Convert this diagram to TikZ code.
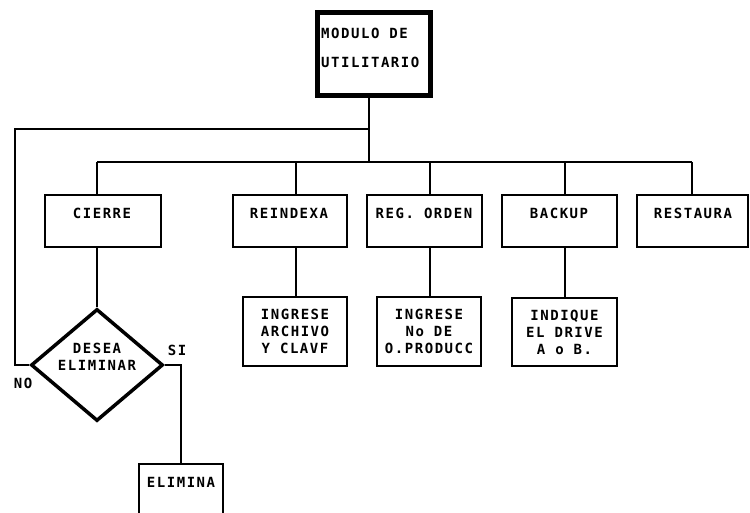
\documentclass[tikz,border=0pt]{standalone}
\usepackage{fontspec}
\newfontfamily\cadfont[LetterSpace=11]{DejaVu Sans Mono Bold}
\usetikzlibrary{shapes.geometric}
\begin{document}
\begin{tikzpicture}[x=1pt,y=-1pt,
  wire/.style={line width=1.5pt},
  box/.style={draw, line width=1.5pt, rectangle, inner sep=0pt},
  txt/.style={font=\cadfont\fontsize{14}{17}\selectfont, inner sep=0pt, align=center},
]
\clip (0,0) rectangle (750,513);

% main module
\node[draw, line width=5pt, minimum width=113, minimum height=83, inner sep=0pt] (mod) at (374,54) {};
\node[txt, anchor=west] (mod-t1) at (321,33) {MODULO DE};
\node[txt, anchor=west] (mod-t2) at (321,62) {UTILITARIO};

% first level options
\node[box, minimum width=116, minimum height=52] (cierre)   at (103,221) {};
\node[box, minimum width=114, minimum height=52] (reindexa) at (290,221) {};
\node[box, minimum width=115, minimum height=52] (regorden) at (424.5,221) {};
\node[box, minimum width=115, minimum height=52] (backup)   at (559.5,221) {};
\node[box, minimum width=111, minimum height=52] (restaura) at (692.5,221) {};
\node[txt] (cierre-t)   at (102,213) {CIERRE};
\node[txt] (reindexa-t) at (289,213) {REINDEXA};
\node[txt] (regorden-t) at (424,213) {REG. ORDEN};
\node[txt] (backup-t)   at (559,213) {BACKUP};
\node[txt] (restaura-t) at (693,213) {RESTAURA};

% second level prompts
\node[box, minimum width=104, minimum height=69, txt] (ing1) at (295,331.5) {INGRESE\\ARCHIVO\\Y CLAVF};
\node[box, minimum width=104, minimum height=69, txt] (ing2) at (429,331.5) {INGRESE\\No DE\\O.PRODUCC};
\node[box, minimum width=105, minimum height=68, txt] (ind)  at (564.5,332) {INDIQUE\\EL DRIVE\\A o B.};

% decision
\node[draw, diamond, line width=3.5pt, minimum width=132, minimum height=112, inner sep=0pt] (dia) at (97,365) {};
\node[txt] (dia-t) at (97,357) {DESEA\\ELIMINAR};
\node[txt] (no) at (23,383) {NO};
\node[txt] (si) at (177,350) {SI};

\node[box, minimum width=84, minimum height=80] (elim) at (181,504) {};
\node[txt] (elim-t) at (181,482) {ELIMINA};

% bus coordinates
\coordinate (hub)  at (369,162);
\coordinate (loop) at (369,129);
\coordinate (nw)   at (15,129);
\coordinate (bc)   at (97,162);
\coordinate (br)   at (296,162);
\coordinate (bo)   at (430,162);
\coordinate (bb)   at (565,162);
\coordinate (bs)   at (692,162);

% connectors
\draw[wire] (hub |- mod.south) -- (hub);
\draw[wire] (loop) -- (nw) |- (dia.west);
\draw[wire] (bc) -- (bs);
\draw[wire] (bc) -- (bc |- cierre.north);
\draw[wire] (br) -- (br |- reindexa.north);
\draw[wire] (bo) -- (bo |- regorden.north);
\draw[wire] (bb) -- (bb |- backup.north);
\draw[wire] (bs) -- (bs |- restaura.north);
\draw[wire] (cierre.south -| dia.north) -- (dia.north);
\draw[wire] (reindexa.south -| br) -- (ing1.north -| br);
\draw[wire] (regorden.south -| bo) -- (ing2.north -| bo);
\draw[wire] (backup.south -| bb) -- (ind.north -| bb);
\draw[wire] (dia.east) -| (elim.north);
\end{tikzpicture}
\end{document}
